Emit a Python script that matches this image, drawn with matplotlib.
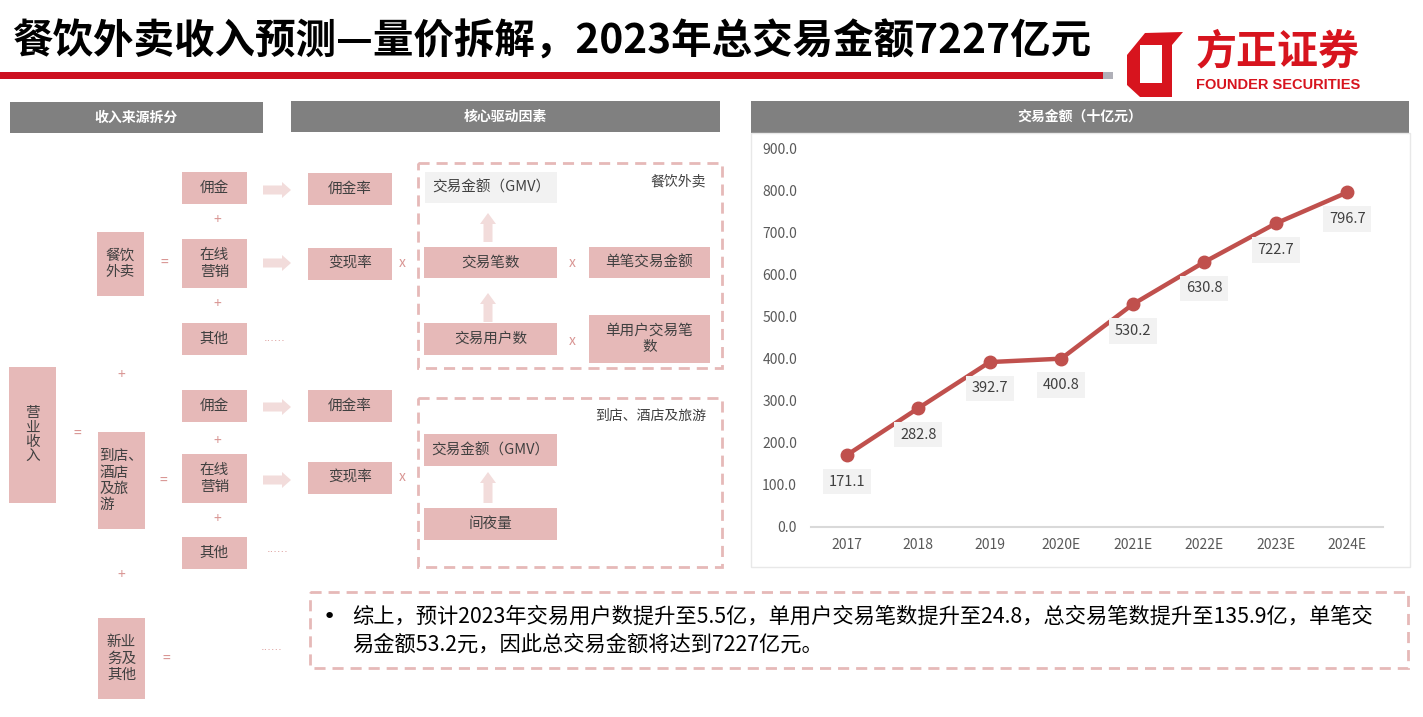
import matplotlib.pyplot as plt
from matplotlib.patches import Rectangle, Polygon

plt.rcParams['font.family'] = ['Noto Sans CJK SC', 'DejaVu Sans']

years = ['2017', '2018', '2019', '2020E', '2021E', '2022E', '2023E', '2024E']
gmv = [171.1, 282.8, 392.7, 400.8, 530.2, 630.8, 722.7, 796.7]
yticks = [0, 100, 200, 300, 400, 500, 600, 700, 800, 900]

title = '餐饮外卖收入预测—量价拆解，2023年总交易金额7227亿元'
summary = ['综上，预计2023年交易用户数提升至5.5亿，单用户交易笔数提升至24.8，总交易笔数提升至135.9亿，单笔交',
           '易金额53.2元，因此总交易金额将达到7227亿元。']

PINK = '#E6B9B8'
LIGHT = '#F2DCDB'
SYM = '#D99694'
TXT = '#404040'
GRAY = '#808080'
RED = '#D7141E'

fig = plt.figure(figsize=(14.23, 7.17), dpi=100)
bg = fig.add_axes([0, 0, 1, 1])
bg.set_xlim(0, 1423)
bg.set_ylim(717, 0)
bg.axis('off')


def box(x0, y0, x1, y1, text, fc=PINK, size=10.5, ls=1.2, ma='center'):
    bg.add_patch(Rectangle((x0, y0), x1 - x0, y1 - y0, fc=fc, ec='none'))
    bg.text((x0 + x1) / 2, (y0 + y1) / 2, text, ha='center', va='center',
            fontsize=size, color=TXT, linespacing=ls, multialignment=ma)


def sym(x, y, s, size=10):
    bg.text(x, y, s, ha='center', va='center', fontsize=size, color=SYM)


def dots(x, y):
    bg.text(x, y, '......', ha='center', va='center', fontsize=8, color=SYM,
            family='DejaVu Sans')


def harrow(x0, x1, y):
    hl = 9
    pts = [(x0, y - 4.5), (x1 - hl, y - 4.5), (x1 - hl, y - 8), (x1, y),
           (x1 - hl, y + 8), (x1 - hl, y + 4.5), (x0, y + 4.5)]
    bg.add_patch(Polygon(pts, closed=True, fc=LIGHT, ec='none'))


def varrow(x, y0, y1):
    # y0 bottom (larger), y1 tip
    hl = 11
    pts = [(x - 4.5, y0), (x - 4.5, y1 + hl), (x - 8, y1 + hl), (x, y1),
           (x + 8, y1 + hl), (x + 4.5, y1 + hl), (x + 4.5, y0)]
    bg.add_patch(Polygon(pts, closed=True, fc=LIGHT, ec='none'))


def header(x0, y0, x1, y1, text):
    bg.add_patch(Rectangle((x0, y0), x1 - x0, y1 - y0, fc=GRAY, ec='none'))
    bg.text((x0 + x1) / 2, (y0 + y1) / 2, text, ha='center', va='center',
            fontsize=10, color='white', fontweight='bold')


def dashed(x0, y0, x1, y1):
    bg.add_patch(Rectangle((x0, y0), x1 - x0, y1 - y0, fc='none', ec=PINK,
                           lw=2, ls=(0, (4, 2.5))))


# title and logo
bg.text(12, 42, title, ha='left', va='center', fontsize=29.2, fontweight='bold', color='black')
bg.add_patch(Rectangle((0, 72), 1103, 7, fc='#CC1020', ec='none'))
bg.add_patch(Rectangle((1103, 72), 10, 7, fc='#B0B0B8', ec='none'))
bg.add_patch(Polygon([(1127, 55), (1145, 33), (1183, 32), (1172, 45), (1172, 97),
                      (1140, 97), (1127, 85)], closed=True, fc=RED, ec='none'))
bg.add_patch(Polygon([(1140, 45), (1162, 45), (1162, 83), (1140, 83)], closed=True,
                     fc='white', ec='none'))
bg.text(1196, 51, '方正证券', ha='left', va='center', fontsize=29.5, fontweight='bold', color=RED)
bg.text(1196, 85, 'FOUNDER SECURITIES', ha='left', va='center', fontsize=10.5,
        fontweight='bold', color=RED, family='Liberation Sans')

# section headers
header(10, 102, 263, 133, '收入来源拆分')
header(291, 101, 720, 132, '核心驱动因素')
header(751, 101, 1409, 133, '交易金额（十亿元）')

# left decomposition
box(9, 367, 56, 503, '营\n业\n收\n入', ls=1.05)
sym(77, 434, '=')
sym(121, 375, '+')
sym(121, 575, '+')

box(97, 232, 144, 296, '餐饮\n外卖')
sym(164, 263, '=')
box(182, 172, 247, 204, '佣金')
sym(217, 220, '+')
box(182, 239, 247, 288, '在线\n营销')
sym(217, 304, '+')
box(182, 323, 247, 355, '其他')
dots(275, 338)
harrow(263, 291, 190)
harrow(263, 291, 263)
box(308, 173, 392, 205, '佣金率')
box(308, 248, 392, 280, '变现率')
sym(402, 263, 'x')

box(98, 432, 145, 529, '到店、\n酒店\n及旅\n游', ma='left')
sym(163, 481, '=')
box(182, 390, 247, 422, '佣金')
sym(217, 441, '+')
box(182, 454, 247, 503, '在线\n营销')
sym(217, 519, '+')
box(182, 537, 247, 569, '其他')
dots(278, 549)
harrow(263, 291, 407)
harrow(263, 291, 480)
box(308, 390, 392, 422, '佣金率')
box(308, 462, 392, 494, '变现率')
sym(402, 477, 'x')

box(98, 618, 145, 699, '新业\n务及\n其他')
sym(166, 659, '=')
dots(272, 647)

# driver boxes
dashed(418, 163, 722, 368)
bg.text(706, 181, '餐饮外卖', ha='right', va='center', fontsize=10, color=TXT)
box(425, 172, 557, 203, '交易金额（GMV）', fc='#F2F2F2')
varrow(488, 242, 213)
box(424, 247, 557, 278, '交易笔数')
sym(572, 263, 'x')
box(589, 247, 710, 278, '单笔交易金额')
varrow(488, 322, 293)
box(424, 323, 557, 355, '交易用户数')
sym(572, 341, 'x')
box(589, 315, 710, 363, '单用户交易笔\n数')

dashed(418, 398, 722, 567)
bg.text(706, 416, '到店、酒店及旅游', ha='right', va='center', fontsize=10, color=TXT)
box(424, 434, 557, 466, '交易金额（GMV）')
varrow(488, 503, 472)
box(424, 508, 557, 540, '间夜量')

# summary
dashed(310, 592, 1408, 668)
bg.text(329, 617, '•', ha='center', va='center', fontsize=16, color='black', family='DejaVu Sans')
bg.text(352, 617, summary[0], ha='left', va='center', fontsize=15.3, color='black')
bg.text(352, 645, summary[1], ha='left', va='center', fontsize=15.3, color='black')

# chart panel
bg.add_patch(Rectangle((751, 133), 659, 434, fc='white', ec='#E8E8E8', lw=1))
ax = fig.add_axes([811 / 1423, (717 - 527) / 717, 572 / 1423, 378 / 717])
ax.set_xlim(-0.5, 7.5)
ax.set_ylim(0, 900)
xs = list(range(len(years)))
ax.plot(xs, gmv, color='#C0504D', lw=3.2, marker='o', markersize=9, zorder=3)
for x, v in zip(xs, gmv):
    ax.annotate(f'{v:.1f}', (x, v), xytext=(0, -19), textcoords='offset points',
                ha='center', va='center', fontsize=10.5, color=TXT,
                bbox=dict(boxstyle='square,pad=0.4', fc='#F2F2F2', ec='none'))
ax.set_xticks(xs)
ax.set_xticklabels(years)
ax.set_yticks(yticks)
ax.set_yticklabels([f'{t:.1f}' for t in yticks])
for s in ['top', 'right', 'left']:
    ax.spines[s].set_visible(False)
ax.spines['bottom'].set_color('#D9D9D9')
ax.spines['bottom'].set_linewidth(1.5)
ax.tick_params(length=0, labelsize=10, colors='#595959', pad=8)
ax.tick_params(axis='y', pad=10)
ax.patch.set_alpha(0)

fig.savefig('out.png', dpi=100)
